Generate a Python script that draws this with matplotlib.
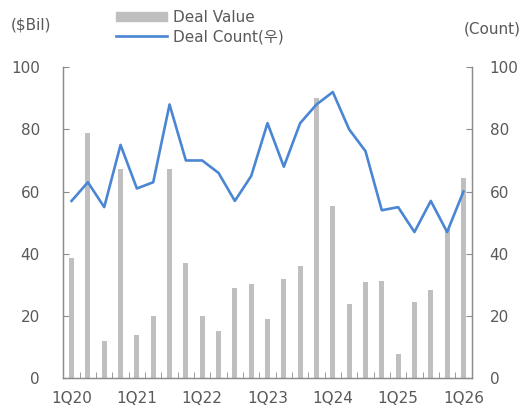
import numpy as np
import matplotlib.pyplot as plt
from matplotlib.patches import Patch
from matplotlib.lines import Line2D

plt.rcParams['font.family'] = ['DejaVu Sans', 'Noto Sans CJK KR']

quarters = ['1Q20', '2Q20', '3Q20', '4Q20',
            '1Q21', '2Q21', '3Q21', '4Q21',
            '1Q22', '2Q22', '3Q22', '4Q22',
            '1Q23', '2Q23', '3Q23', '4Q23',
            '1Q24', '2Q24', '3Q24', '4Q24',
            '1Q25', '2Q25', '3Q25', '4Q25',
            '1Q26']
deal_value = [38.6, 78.8, 12.0, 67.4, 14.0, 20.0, 67.4, 37.2, 20.0, 15.2,
              29.0, 30.4, 19.0, 31.9, 36.0, 90.0, 55.4, 23.7, 30.9, 31.3,
              7.9, 24.6, 28.4, 48.0, 64.3]
deal_count = [57, 63, 55, 75, 61, 63, 88, 70, 70, 66,
              57, 65, 82, 68, 82, 88, 92, 80, 73, 54,
              55, 47, 57, 47, 60]

grey = '#595959'
bar_color = '#bfbfbf'
line_color = '#4a86d4'

fig = plt.figure(figsize=(5.24, 4.12), dpi=100)
ax = fig.add_axes([0.121, 0.082, 0.779, 0.755])
x = np.arange(len(quarters))
ax.bar(x, deal_value, width=0.3, color=bar_color, zorder=2)
ax.set_ylim(0, 100)
ax.set_xlim(-0.5, len(quarters) - 0.5)
ax.set_yticks(range(0, 101, 20))

ax2 = ax.twinx()
ax2.plot(x, deal_count, color=line_color, lw=1.9)
ax2.set_ylim(0, 100)
ax2.set_yticks(range(0, 101, 20))

ax.set_xticks(x[::4])
ax.set_xticklabels(quarters[::4])
ax.set_xticks(np.arange(0.5, len(quarters) - 0.5, 1), minor=True)

for a in (ax, ax2):
    a.spines['top'].set_visible(False)
    for s in ('left', 'right', 'bottom'):
        a.spines[s].set_color('#8c8c8c')
        a.spines[s].set_linewidth(0.9)
    a.tick_params(axis='y', direction='in', length=4, color='#8c8c8c',
                  labelsize=11, labelcolor=grey)
ax.tick_params(axis='x', which='major', length=0, labelsize=11,
               labelcolor=grey, pad=9)
ax.tick_params(axis='x', which='minor', direction='in', length=4,
               color='#8c8c8c')
ax.tick_params(axis='y', pad=17)
ax2.tick_params(axis='y', pad=13)

fig.text(0.02, 0.94, '($Bil)', fontsize=11, color=grey, va='center')
fig.text(0.993, 0.93, '(Count)', fontsize=11, color=grey, va='center', ha='right')

handles = [Patch(color=bar_color), Line2D([], [], color=line_color, lw=1.9)]
fig.legend(handles, ['Deal Value', 'Deal Count(우)'], loc='upper left',
           bbox_to_anchor=(0.196, 1.01), frameon=False, fontsize=11,
           labelcolor=grey, handlelength=3.3, handletextpad=0.4,
           labelspacing=0.3, handleheight=0.5)

fig.savefig('out.png', dpi=100)
